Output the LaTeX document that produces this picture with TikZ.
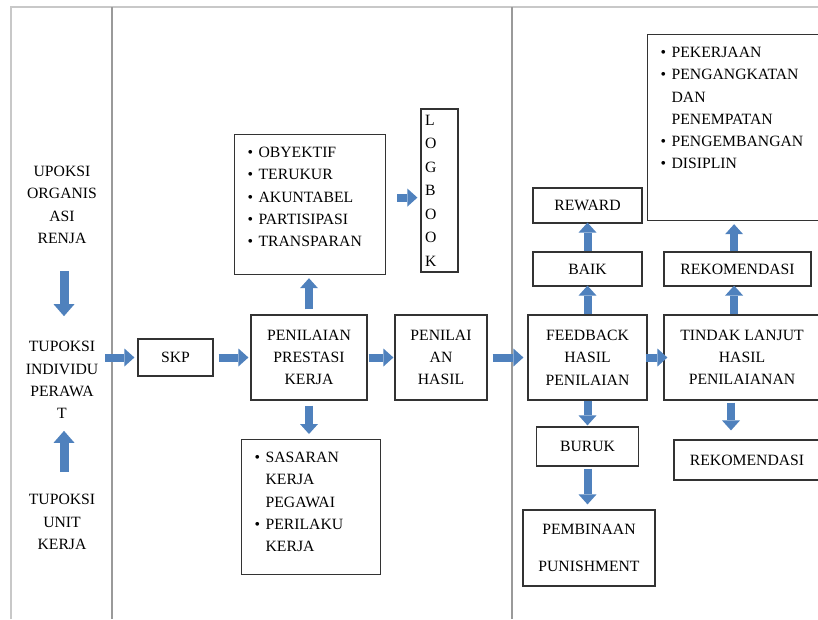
\documentclass[tikz,border=0pt]{standalone}
\usepackage{fontspec}
\setmainfont{Liberation Serif}
\usetikzlibrary{arrows.meta, positioning, calc}
\definecolor{flowblue}{HTML}{4F81BD}
\definecolor{framegray}{HTML}{9A9A9A}
\definecolor{edgegray}{HTML}{C8C8C8}
\newcommand{\bul}{\par\hangindent=11pt\hangafter=1\noindent\makebox[11pt][l]{\textbullet}}
\newcommand{\listtext}[3]{\parbox[t][#1][t]{#2}{\raggedright\leftskip=13pt\vspace*{12.5pt}#3}}

\begin{document}
\begin{tikzpicture}[
    x=1pt, y=-1pt,
    font=\fontsize{15.7}{22.3}\selectfont,
    box/.style={rectangle, draw=black!80, line width=1.2pt, align=center, inner sep=0pt},
    listbox/.style={rectangle, draw=black!80, line width=1.2pt, anchor=north west, inner sep=0pt},
    label/.style={align=center, inner sep=0pt},
    flow/.style={line width=8pt, draw=flowblue, -{Triangle[length=10pt, width=18pt, line width=0pt]}},
    bigflow/.style={line width=9pt, draw=flowblue, -{Triangle[length=12pt, width=21pt, line width=0pt]}}
]
\useasboundingbox (0,0) rectangle (818,619);

% Frame
\draw[edgegray, line width=1.6pt] (11,619) -- (11,7) -- (818,7);
\draw[framegray, line width=1.2pt] (112,7) -- (112,619);
\draw[framegray, line width=1.2pt] (512,7) -- (512,619);

% Column 1
\node[label] (renja) at (62,205) {UPOKSI\\ORGANIS\\ASI\\RENJA};
\node[label] (individu) at (62,380) {TUPOKSI\\INDIVIDU\\PERAWA\\T};
\node[label] (unit) at (62,522) {TUPOKSI\\UNIT\\KERJA};

% Column 2
\node[box, minimum width=75pt, minimum height=37pt] (skp) at (175.5,357.5) {SKP};
\node[box, minimum width=116pt, minimum height=85pt] (ppk) at (309,357.5) {PENILAIAN\\PRESTASI\\KERJA};
\node[box, minimum width=92pt, minimum height=85pt] (hasil) at (441,357.5) {PENILAI\\AN\\HASIL};
\node[listbox] (kriteria) at (234,134) {\listtext{140pt}{151pt}{%
  \bul OBYEKTIF\bul TERUKUR\bul AKUNTABEL\bul PARTISIPASI\bul TRANSPARAN}};
\node[listbox] (sasaran) at (241,439) {\listtext{135pt}{139pt}{%
  \bul SASARAN\newline KERJA\newline PEGAWAI\bul PERILAKU\newline KERJA}};
\node[box, minimum width=37pt, minimum height=163pt, text width=29pt, inner xsep=4pt, align=left,
  font=\fontsize{15.7}{23.5}\selectfont] (logbook) at (439.5,190.5) {L\\O\\G\\B\\O\\O\\K};

% Column 3
\node[box, minimum width=119pt, minimum height=85pt] (feedback) at (587.5,357.5) {FEEDBACK\\HASIL\\PENILAIAN};
\node[box, minimum width=109pt, minimum height=34pt] (baik) at (587.5,269) {BAIK};
\node[box, minimum width=109pt, minimum height=35pt] (reward) at (587.5,205.5) {REWARD};
\node[box, minimum width=102pt, minimum height=39pt] (buruk) at (587.5,446.5) {BURUK};
\node[box, minimum width=132pt, minimum height=76pt] (pembinaan) at (589,548) {PEMBINAAN\\[14pt]PUNISHMENT};
\node[box, minimum width=156pt, minimum height=85pt] (tindak) at (742,357.5) {TINDAK LANJUT\\HASIL\\PENILAIANAN};
\node[box, minimum width=147pt, minimum height=34pt] (rekomatas) at (737.5,269) {REKOMENDASI};
\node[box, minimum width=146pt, minimum height=40pt] (rekombawah) at (747,460) {REKOMENDASI};
\node[listbox] (jenis) at (647,34) {\listtext{186pt}{173pt}{%
  \bul PEKERJAAN\bul PENGANGKATAN\newline DAN\newline PENEMPATAN\bul PENGEMBANGAN\bul DISIPLIN}};

% Arrows
\draw[bigflow, shorten <=27pt, shorten >=25pt] ([xshift=2pt]renja.south) -- ([xshift=2pt]individu.north);
\draw[bigflow, shorten <=22pt, shorten >=12pt] ([xshift=2pt]unit.north) -- ([xshift=2pt]individu.south);
\draw[flow, shorten <=7pt, shorten >=3pt] (individu.east |- skp.west) -- (skp.west);
\draw[flow, shorten <=5pt, shorten >=2pt] (skp) -- (ppk);
\draw[flow, shorten <=1pt, shorten >=1pt] (ppk) -- (hasil);
\draw[flow, shorten <=5pt, shorten >=4pt] (hasil) -- (feedback);
\draw[flow, shorten <=-2pt, shorten >=-4pt] (feedback) -- (tindak);
\draw[flow, shorten <=5pt, shorten >=3pt] (ppk.north) -- (ppk.north |- kriteria.south);
\draw[flow, shorten <=5pt, shorten >=5pt] (ppk.south) -- (ppk.south |- sasaran.north);
\draw[flow, shorten <=11pt, shorten >=3pt] ([yshift=7pt]kriteria.east) -- ([yshift=7pt]kriteria.east -| logbook.west);
\draw[flow, shorten >=-1pt] (feedback) -- (baik);
\draw[flow, shorten >=-1pt] (baik) -- (reward);
\draw[flow, shorten >=1pt] (feedback) -- (buruk);
\draw[flow, shorten <=2pt, shorten >=5pt] (buruk.south) -- (buruk.south |- pembinaan.north);
\draw[flow, shorten >=-1pt] (tindak.north -| jenis.south) -- (rekomatas.south -| jenis.south);
\draw[flow, shorten >=3pt] (rekomatas.north -| jenis.south) -- (jenis.south);
\draw[flow, shorten <=2pt, shorten >=9pt] ([xshift=-11pt]tindak.south) -- ([xshift=-11pt]tindak.south |- rekombawah.north);
\end{tikzpicture}
\end{document}
